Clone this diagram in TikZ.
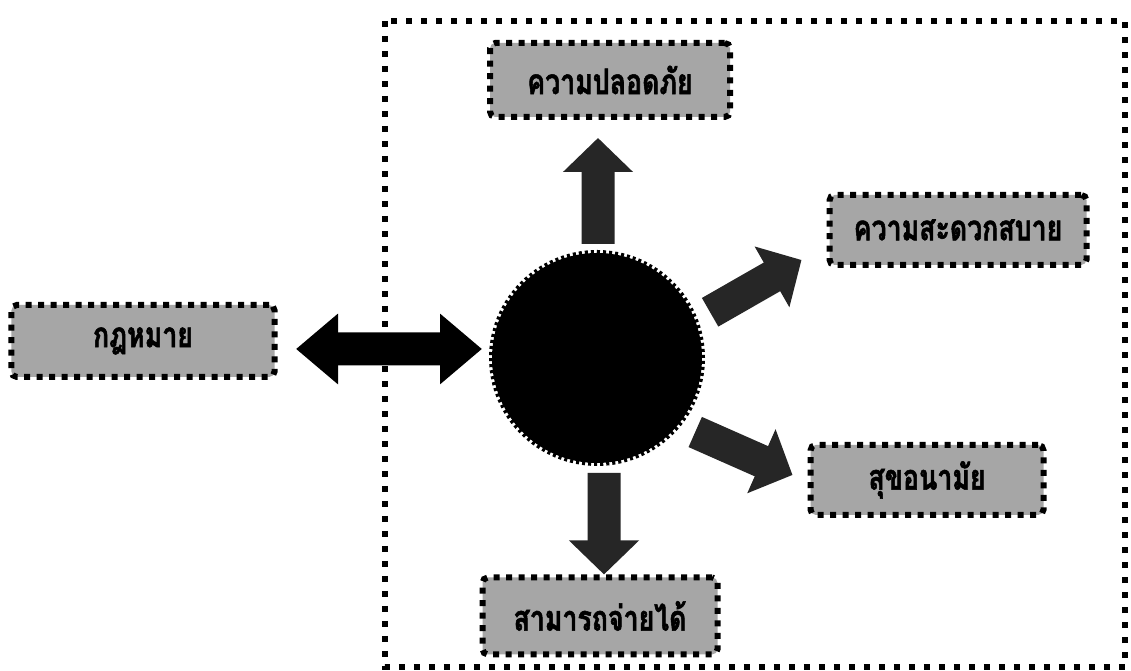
\documentclass[tikz,border=0pt]{standalone}
\usepackage{fontspec}
\usepackage{tikz}
\usetikzlibrary{arrows.meta}
\newfontfamily\thaifont[Script=Thai,FakeStretch=0.76,FakeBold=1.5]{Loma}

\tikzset{
  infobox/.style={rectangle, draw=black, fill=black!35, line width=0.06cm,
    dash pattern=on 0.06cm off 0.065cm, rounded corners=1.5pt, inner sep=0pt,
    font=\thaifont\bfseries\fontsize{10}{12}\selectfont},
  hubnode/.style={circle, fill=black, draw=black, line width=0.06cm,
    dash pattern=on 0.03cm off 0.03cm, minimum size=2.1cm, inner sep=0pt},
  fatarrow/.style={draw=black!85, line width=0.33cm,
    -{Triangle[width=0.68cm,length=0.34cm]}},
  frame/.style={draw=black, line width=0.06cm, dash pattern=on 0.06cm off 0.09cm}
}

\begin{document}
\begin{tikzpicture}
\useasboundingbox[fill=white] (0,0) rectangle (11.31,6.71);

% dotted frame round the four aims
\draw[frame] (3.85,6.50) rectangle (11.25,0.04);

\node (hub) at (5.97,3.13) [hubnode] {};

\node (safety) at (6.10,5.91) [infobox, minimum width=2.40cm, minimum height=0.74cm] {ความปลอดภัย};
\node (conv) at (9.58,4.41) [infobox, minimum width=2.57cm, minimum height=0.70cm] {ความสะดวกสบาย};
\node (hyg) at (9.27,1.91) [infobox, minimum width=2.33cm, minimum height=0.70cm] {สุขอนามัย};
\node (afford) at (6.00,0.55) [infobox, minimum width=2.35cm, minimum height=0.77cm] {สามารถจ่ายได้};

\node (law) at (1.43,3.30) [infobox, minimum width=2.63cm, minimum height=0.72cm] {กฎหมาย};

% arrows out of the hub
\draw[fatarrow] ([xshift=0.01cm,yshift=0.06cm]hub.north) -- ([xshift=-0.12cm,yshift=-0.18cm]safety.south);
\draw[fatarrow] (hub.22) ++(22:0.14) -- ([xshift=-0.25cm,yshift=-0.30cm]conv.west);
\draw[fatarrow] (hub.-37) ++(-37:0.15) -- ([xshift=-0.15cm,yshift=0.05cm]hyg.west);
\draw[fatarrow] ([xshift=0.07cm,yshift=-0.07cm]hub.south) -- ([xshift=0.04cm]afford.north);

% law both ways
\draw[fatarrow, draw=black, {Triangle[width=0.68cm,length=0.42cm]}-{Triangle[width=0.68cm,length=0.42cm]}]
  ([xshift=0.185cm,yshift=-0.08cm]law.east) -- ([xshift=-0.07cm,yshift=0.09cm]hub.west);

\end{tikzpicture}
\end{document}
